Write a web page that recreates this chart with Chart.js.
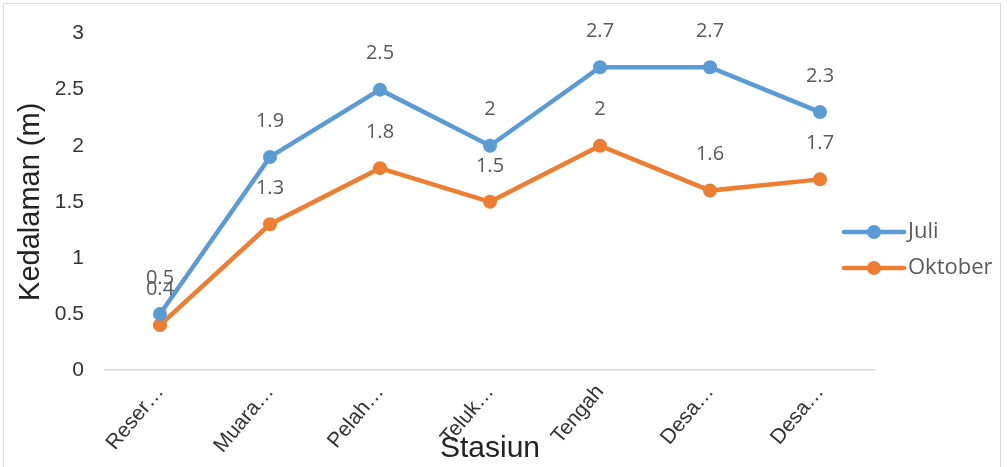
<!DOCTYPE html>
<html>
<head>
<meta charset="utf-8">
<script src="https://cdn.jsdelivr.net/npm/chart.js@4"></script>
<style>
  html, body { margin: 0; padding: 0; background: #fff; }
  #wrap { position: relative; width: 1007px; height: 467px; overflow: hidden; }
  #frame { position: absolute; left: 3px; top: 3px; width: 998px; height: 480px; border: 1px solid #d9d9d9; box-sizing: border-box; }
</style>
</head>
<body>
<div id="wrap">
  <div id="frame"></div>
  <canvas id="chart"></canvas>
</div>
<script>
// data
const stasiun = ['Reser…', 'Muara…', 'Pelah…', 'Teluk…', 'Tengah', 'Desa…', 'Desa…'];
const juli = [0.5, 1.9, 2.5, 2, 2.7, 2.7, 2.3];
const oktober = [0.4, 1.3, 1.8, 1.5, 2, 1.6, 1.7];
const seriesNames = ['Juli', 'Oktober'];
const seriesColors = ['#5B9BD5', '#ED7D31'];

// labels above each point + legend with line and marker
const labelPlugin = {
    id: 'labelPlugin',
    afterDatasetsDraw(chart) {
        const ctx = chart.ctx;
        ctx.save();
        ctx.font = '20px "Open Sans"';
        ctx.fillStyle = '#595959';
        ctx.textAlign = 'center';
        ctx.textBaseline = 'middle';
        chart.data.datasets.forEach((ds, i) => {
            chart.getDatasetMeta(i).data.forEach((pt, j) => {
                ctx.fillText(String(ds.data[j]), pt.x, pt.y - 36);
            });
        });

        // legend
        const legY = [232, 268];
        chart.data.datasets.forEach((ds, i) => {
            const y = legY[i];
            ctx.strokeStyle = ds.borderColor;
            ctx.lineWidth = 4.5;
            ctx.lineCap = 'round';
            ctx.beginPath();
            ctx.moveTo(844, y);
            ctx.lineTo(904, y);
            ctx.stroke();
            ctx.fillStyle = ds.borderColor;
            ctx.beginPath();
            ctx.arc(874, y, 7, 0, Math.PI * 2);
            ctx.fill();
            ctx.fillStyle = '#595959';
            ctx.textAlign = 'left';
            ctx.font = '22px "Open Sans"';
            ctx.fillText(ds.label, 908, y);
        });
        ctx.restore();
    }
};

const mkSet = (name, data, color) => ({
    label: name,
    data: data,
    borderColor: color,
    backgroundColor: color,
    borderWidth: 4.5,
    pointRadius: 7,
    pointBorderWidth: 0,
    pointBackgroundColor: color,
    tension: 0,
    fill: false
});

new Chart(document.getElementById('chart'), {
    type: 'line',
    data: {
        labels: stasiun,
        datasets: [
            mkSet(seriesNames[0], juli, seriesColors[0]),
            mkSet(seriesNames[1], oktober, seriesColors[1])
        ]
    },
    options: {
        responsive: true,
        maintainAspectRatio: false,
        animation: false,
        layout: { padding: { left: 8, right: 132, top: 28, bottom: 0 } },
        plugins: {
            legend: { display: false },
            tooltip: { enabled: false }
        },
        scales: {
            x: {
                offset: true,
                grid: { display: false, drawTicks: false },
                border: { display: true, color: '#d9d9d9', width: 1.5 },
                ticks: {
                    autoSkip: false,
                    minRotation: 50,
                    maxRotation: 50,
                    padding: 10,
                    color: '#333',
                    font: { family: '"Liberation Sans", Arial', size: 21 }
                },
                title: {
                    display: true,
                    text: 'Stasiun',
                    color: '#222',
                    padding: { top: 0, bottom: 0 },
                    font: { family: '"Liberation Sans", Arial', size: 30 }
                },
                afterFit(scale) { scale.height = 97; }
            },
            y: {
                min: 0,
                max: 3,
                grid: { display: false, drawTicks: false },
                border: { display: false },
                ticks: {
                    stepSize: 0.5,
                    padding: 21,
                    color: '#333',
                    font: { family: '"Liberation Sans", Arial', size: 21 },
                    callback: v => String(v)
                },
                title: {
                    display: true,
                    text: 'Kedalaman (m)',
                    color: '#222',
                    padding: { top: 6, bottom: 0 },
                    font: { family: '"Liberation Sans", Arial', size: 29 }
                },
                afterFit(scale) { scale.width = 97; }
            }
        }
    },
    plugins: [labelPlugin]
});
</script>
</body>
</html>
